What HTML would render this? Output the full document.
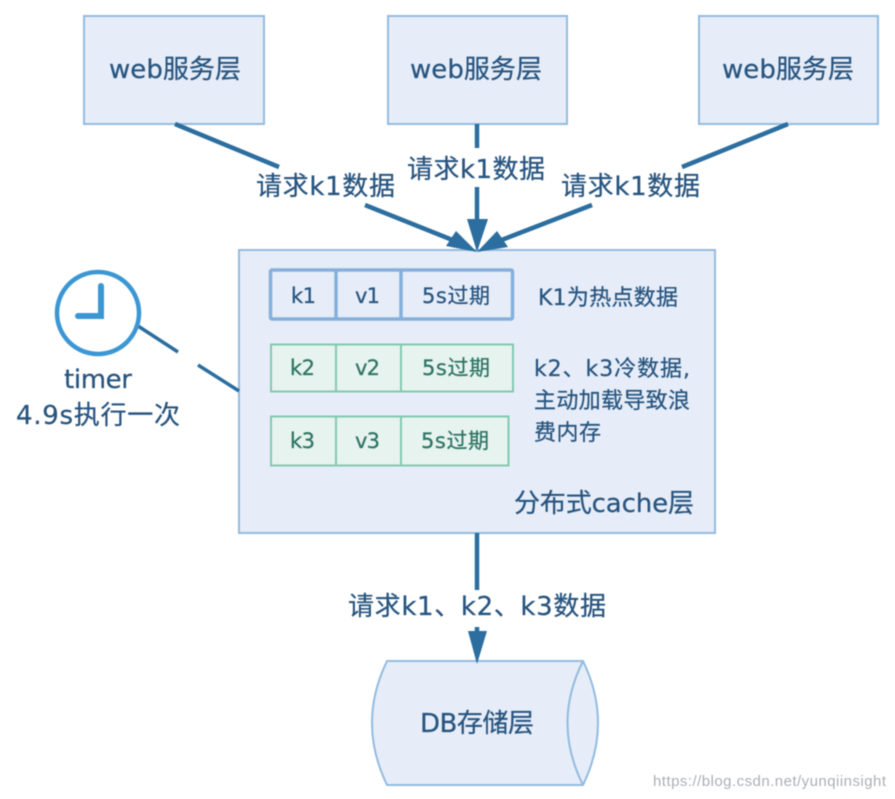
<!DOCTYPE html>
<html>
<head>
<meta charset="utf-8">
<style>
html,body{margin:0;padding:0;background:#fff;width:895px;height:799px;overflow:hidden}
svg{display:block;filter:blur(.4px)}
text{font-family:"DejaVu Sans","Noto Sans CJK SC",sans-serif;fill:#27547f;stroke:#27547f;stroke-width:.25px}
</style>
</head>
<body>
<svg width="895" height="799" viewBox="0 0 895 799" xmlns="http://www.w3.org/2000/svg">
<rect width="895" height="799" fill="#fff"/>
<!-- web boxes -->
<g fill="#e6edf8" stroke="#93bbdf" stroke-width="2">
<rect x="84" y="16" width="180" height="108"/>
<rect x="388" y="16" width="179" height="108"/>
<rect x="699" y="16" width="179" height="108"/>
<rect x="239" y="250" width="476" height="283"/>
<path d="M387 661H583Q613 723 583 785H387Q357 723 387 661Z"/>
<path d="M583 661Q552 723 583 785" fill="none"/>
</g>
<!-- connectors -->
<g stroke="#2b6e9f" fill="none" stroke-width="4.500">
<path d="M175 124L279 167M365 205L455 241"/>
<path d="M788 124L682 167M592 205L499 241"/>
<path d="M477 124V148M477 187V225"/>
<path d="M477 533V590M477 627V635"/>
<path d="M138 326L178 352M198 365L239 391" stroke-width="3.500"/>
</g>
<g fill="#2b6e9f">
<path d="M477 252L446 246L456 231Z"/>
<path d="M477 252L508 247L497 231Z"/>
<path d="M477 252L467 219H488Z"/>
<path d="M477 664L468 631H487Z"/>
</g>
<!-- clock -->
<circle cx="98" cy="313" r="41" fill="#fff" stroke="#3b97d3" stroke-width="4.500"/>
<path d="M101 286V316H78" fill="none" stroke="#3b97d3" stroke-width="6" stroke-linecap="round" stroke-linejoin="miter"/>
<!-- rows -->
<g fill="#e6edf8" stroke="#85b0dc" stroke-width="3.500">
<rect x="270.500" y="270" width="242" height="49" rx="1.500"/>
<path d="M336 270V319M401 270V319" fill="none"/>
</g>
<g fill="#e7f3ef" stroke="#82c9ae" stroke-width="2">
<rect x="271" y="344.500" width="242" height="47"/>
<path d="M336 344.500V391.500M401 344.500V391.500" fill="none"/>
<rect x="271" y="416.500" width="237.500" height="49"/>
<path d="M336 416.500V465.500M401 416.500V465.500" fill="none"/>
</g>
<!-- labels -->
<g font-size="26">
<text x="109" y="78" textLength="132">web服务层</text>
<text x="410" y="78" textLength="132">web服务层</text>
<text x="722" y="78" textLength="132">web服务层</text>
<text x="256" y="195" textLength="139">请求k1数据</text>
<text x="407" y="178" textLength="138">请求k1数据</text>
<text x="561" y="195" textLength="139">请求k1数据</text>
<text x="348" y="615" textLength="258">请求k1、k2、k3数据</text>
<text x="514" y="512" textLength="180">分布式cache层</text>
<text x="420" y="732" textLength="114">DB存储层</text>
<text x="64" y="388" textLength="68">timer</text>
<text x="16" y="424" textLength="164">4.9s执行一次</text>
</g>
<g font-size="21">
<text x="291" y="303" textLength="25">k1</text>
<text x="355" y="303" textLength="25">v1</text>
<text x="422" y="303" textLength="68">5s过期</text>
<text x="290" y="375" textLength="25" style="fill:#2c7463;stroke:#2c7463">k2</text>
<text x="355" y="375" textLength="25" style="fill:#2c7463;stroke:#2c7463">v2</text>
<text x="422" y="375" textLength="68" style="fill:#2c7463;stroke:#2c7463">5s过期</text>
<text x="290" y="448" textLength="25" style="fill:#2c7463;stroke:#2c7463">k3</text>
<text x="355" y="448" textLength="25" style="fill:#2c7463;stroke:#2c7463">v3</text>
<text x="421" y="448" textLength="68" style="fill:#2c7463;stroke:#2c7463">5s过期</text>
</g>
<g font-size="22">
<text x="538" y="305" textLength="140">K1为热点数据</text>
<text x="534" y="376" textLength="156">k2、k3冷数据,</text>
<text x="534" y="408" textLength="156">主动加载导致浪</text>
<text x="534" y="440" textLength="67">费内存</text>
</g>
<text x="653" y="786" font-size="15" textLength="233" style="fill:#aab0b6;stroke:none;font-family:'Liberation Sans',sans-serif">https://blog.csdn.net/yunqiinsight</text>
</svg>
</body>
</html>
